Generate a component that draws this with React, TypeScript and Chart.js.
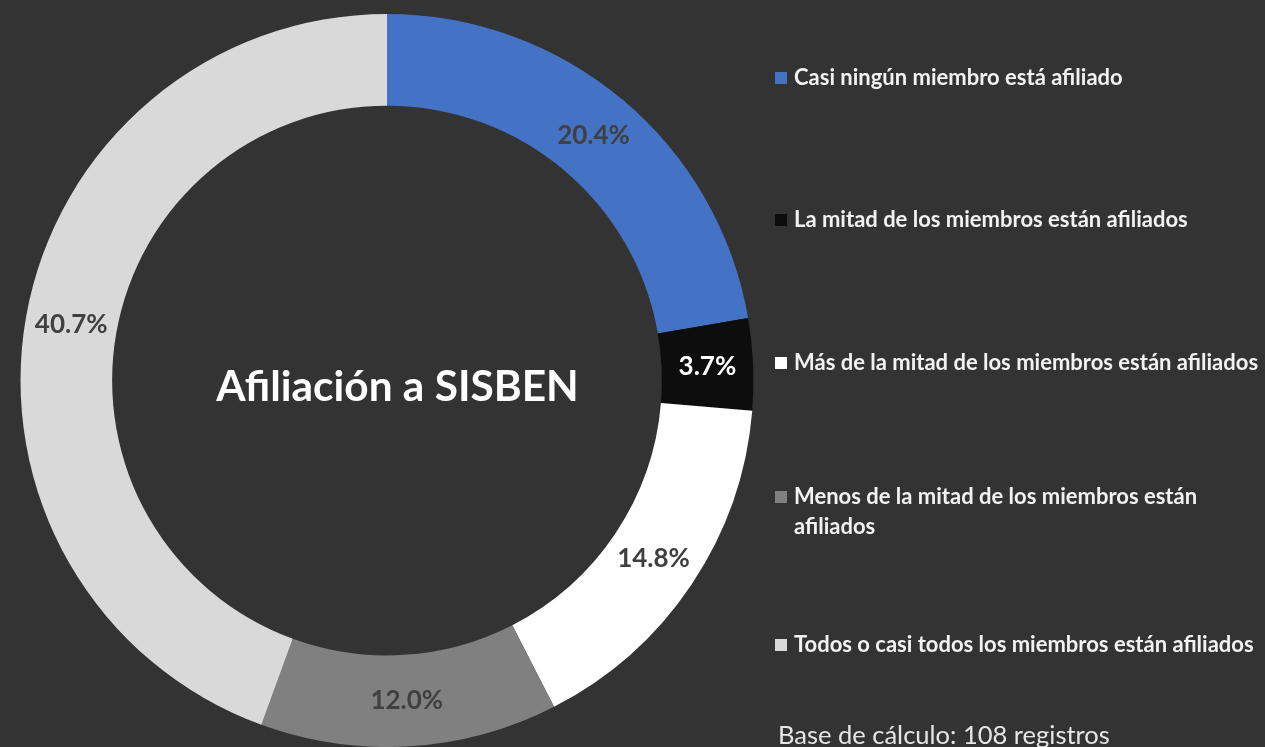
import React, { useEffect, useRef } from "react";
import { Chart, registerables } from "chart.js";

Chart.register(...registerables);

const categories = [
  "Casi ningún miembro está afiliado",
  "La mitad de los miembros están afiliados",
  "Más de la mitad de los miembros están afiliados",
  "Menos de la mitad de los miembros están afiliados",
  "Todos o casi todos los miembros están afiliados",
];
const percentages = [20.4, 3.7, 14.8, 12.0, 40.7];
const sliceColors = ["#4472C4", "#0D0D0D", "#FFFFFF", "#808080", "#D9D9D9"];
const labelColors = ["#404040", "#FFFFFF", "#404040", "#404040", "#404040"];
const centerTitle = "Afiliación a SISBEN";
const footnote = "Base de cálculo: 108 registros";

const FONT = "Lato, 'Open Sans', sans-serif";
const legendTops = [62, 203.5, 347, 480.5, 628.5];

const labelPlugin = {
  id: "sliceLabels",
  afterDatasetsDraw(chart: any) {
    const ctx = chart.ctx;
    const meta = chart.getDatasetMeta(0);
    ctx.save();
    ctx.font = `bold 26px ${FONT}`;
    ctx.textAlign = "center";
    ctx.textBaseline = "middle";
    meta.data.forEach((arc: any, i: number) => {
      const p = arc.getCenterPoint();
      ctx.fillStyle = labelColors[i];
      ctx.fillText(percentages[i].toFixed(1) + "%", p.x, p.y);
    });
    ctx.restore();
  },
};

export default function App() {
  const ref = useRef<HTMLCanvasElement | null>(null);

  useEffect(() => {
    if (!ref.current) return;
    const chart = new Chart(ref.current, {
      type: "doughnut",
      data: {
        labels: categories,
        datasets: [
          {
            data: percentages,
            backgroundColor: sliceColors,
            borderWidth: 0,
          },
        ],
      },
      options: {
        responsive: false,
        maintainAspectRatio: false,
        animation: false,
        cutout: "75%",
        layout: { padding: { left: 20, top: 14, right: 511, bottom: 0 } },
        plugins: {
          legend: { display: false },
          tooltip: { enabled: false },
          title: { display: false },
        },
      },
      plugins: [labelPlugin],
    });
    return () => chart.destroy();
  }, []);

  return (
    <div
      style={{
        position: "fixed",
        left: 0,
        top: 0,
        width: 1265,
        height: 747,
        background: "#333333",
        overflow: "hidden",
        fontFamily: FONT,
      }}
    >
      <canvas
        ref={ref}
        width={1265}
        height={747}
        style={{ position: "absolute", left: 0, top: 0, width: 1265, height: 747 }}
      />
      <div
        style={{
          position: "absolute",
          left: 0,
          width: 795,
          top: 360.2,
          textAlign: "center",
          color: "#FFFFFF",
          fontWeight: 700,
          fontSize: 42.4,
          lineHeight: 1.2,
          whiteSpace: "nowrap",
        }}
      >
        {centerTitle}
      </div>
      {categories.map((c, i) => (
        <div key={c}>
          <div
            style={{
              position: "absolute",
              left: 775,
              top: legendTops[i] + 10,
              width: 12,
              height: 12,
              background: sliceColors[i],
            }}
          />
          <div
            style={{
              position: "absolute",
              left: 794,
              top: legendTops[i],
              width: 470,
              color: "#F2F2F2",
              fontWeight: 700,
              fontSize: 22,
              lineHeight: "30px",
            }}
          >
            {c}
          </div>
        </div>
      ))}
      <div
        style={{
          position: "absolute",
          left: 778,
          top: 719.1,
          color: "#E6E6E6",
          fontSize: 25.5,
          lineHeight: 1.2,
          whiteSpace: "nowrap",
        }}
      >
        {footnote}
      </div>
    </div>
  );
}
